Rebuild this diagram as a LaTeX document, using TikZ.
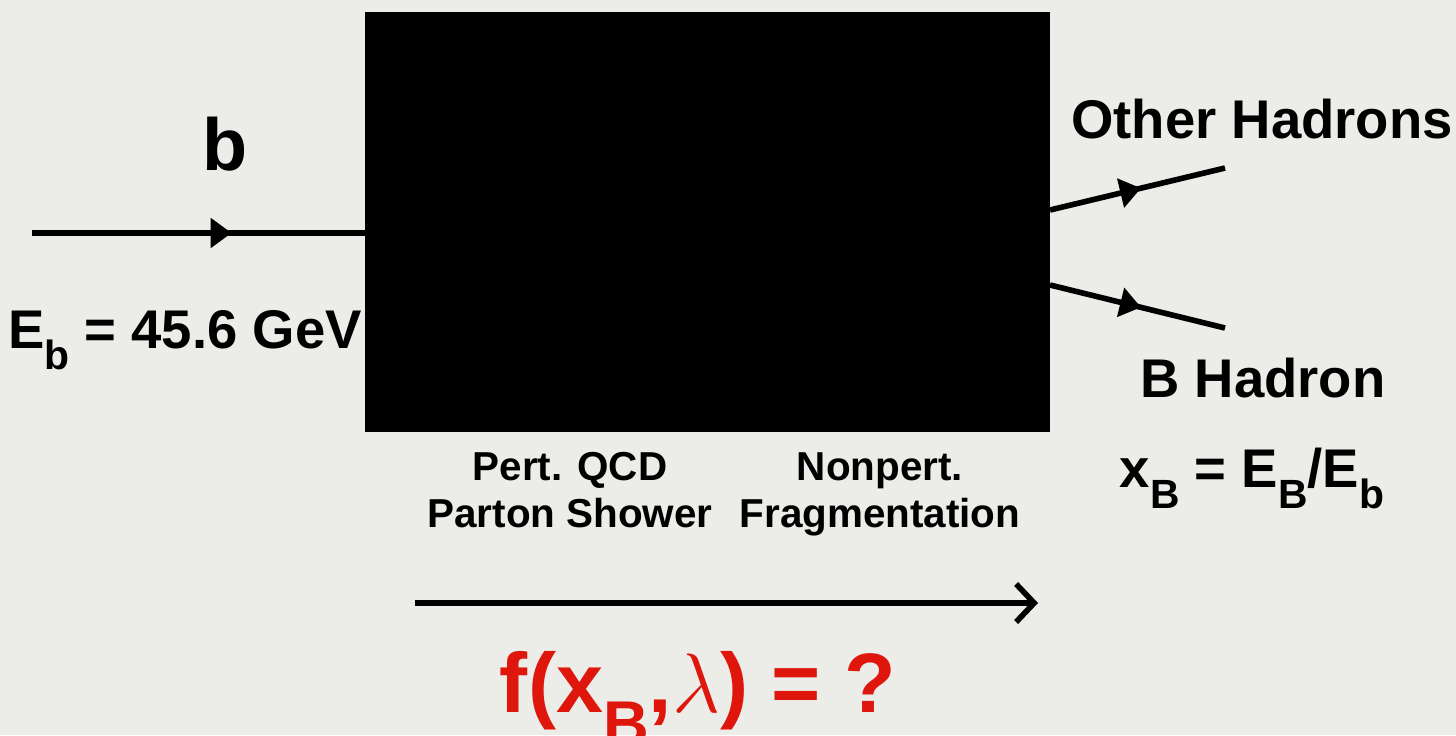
\documentclass[tikz,border=0pt]{standalone}
\usepackage{fix-cm}
\usepackage{fontspec}
\setmainfont{Liberation Sans}
\usetikzlibrary{arrows.meta,decorations.markings}
\definecolor{paper}{RGB}{236,236,232}
\definecolor{fred}{RGB}{222,22,12}
\newcommand{\lowsub}[1]{\raisebox{-0.4em}{\scalebox{0.75}{#1}}}

\begin{document}
\begin{tikzpicture}[x=0.02cm,y=-0.02cm,
  lbl/.style={font=\bfseries\fontsize{31}{34}\selectfont,inner sep=0pt},
  small/.style={font=\bfseries\fontsize{23}{26.7}\selectfont,align=center,inner sep=0pt,anchor=north},
  quark/.style={line width=3.2pt,postaction={decorate},
    decoration={markings,mark=at position #1 with {\arrow{Triangle[length=0.42cm,width=0.58cm]}}}},
  quark/.default=0.55]
  \useasboundingbox (0,0) rectangle (1456,735);
  \fill[paper] (0,0) rectangle (1456,735);
  \node[fill=black,minimum width=13.7cm,minimum height=8.4cm,inner sep=0pt] (box) at (707.5,222) {};
  % b quark coming in
  \coordinate (bin) at (32,233);
  \draw[quark=0.6] (bin) -- (box.west |- bin);
  \node[lbl,anchor=base,font=\bfseries\fontsize{42}{46}\selectfont] (bq) at (225,170) {b};
  \node[lbl,anchor=base] (ebeam) at (185,348) {E\lowsub{b} = 45.6 GeV};
  % hadrons going out
  \coordinate (oh1) at (1050,210);
  \coordinate (oh2) at (1225,168);
  \coordinate (bh1) at (1050,285);
  \coordinate (bh2) at (1225,328);
  \draw[quark=0.52] (oh1) -- (oh2);
  \draw[quark=0.52] (bh1) -- (bh2);
  \node[lbl,anchor=base] (other) at (1262,138) {Other Hadrons};
  \node[lbl,anchor=base] (bhad) at (1263,397) {B Hadron};
  \node[lbl,anchor=base] (xb) at (1252,487) {x\lowsub{B} = E\lowsub{B}/E\lowsub{b}};
  % stages
  \node[small] (pert) at (570,452) {Pert. QCD\\Parton Shower};
  \node[small] (nonpert) at (880,452) {Nonpert.\\Fragmentation};
  \coordinate (flow1) at (415,603);
  \coordinate (flow2) at (1038,603);
  \draw[line width=3.2pt,-{Straight Barb[length=0.36cm,width=0.76cm]}] (flow1) -- (flow2);
  \node[lbl,anchor=base,text=fred,font=\bfseries\fontsize{48}{52}\selectfont] (fxb) at (698,712) {f(x\lowsub{B},$\lambda$) = ?};
\end{tikzpicture}
\end{document}
